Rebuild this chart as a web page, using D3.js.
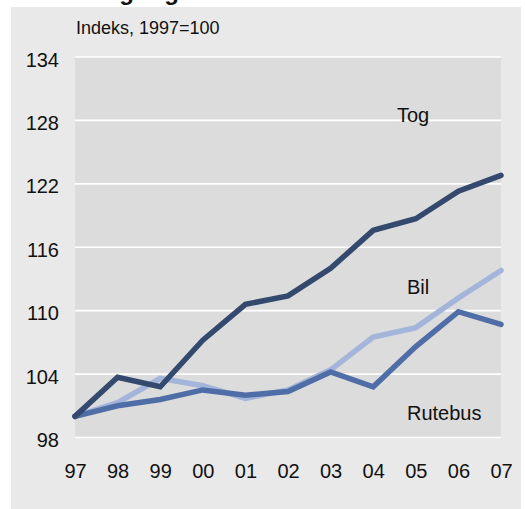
<!DOCTYPE html>
<html>
<head>
<meta charset="utf-8">
<script src="https://cdn.jsdelivr.net/npm/d3@7"></script>
<style>
  body { margin: 0; background: #fff; }
  text { font-family: "Liberation Sans Narrow", "Liberation Sans", sans-serif; fill: #111; }
</style>
</head>
<body>
<div id="chart"></div>
<script>
const w = 525;
const h = 509;

// data
const years = ["97", "98", "99", "00", "01", "02", "03", "04", "05", "06", "07"];
const tog = [100, 103.7, 102.8, 107.2, 110.6, 111.4, 114.0, 117.6, 118.7, 121.3, 122.8];
const bil = [100, 101.3, 103.6, 102.9, 101.7, 102.5, 104.4, 107.5, 108.4, 111.2, 113.8];
const rutebus = [100, 101.0, 101.6, 102.5, 102.0, 102.35, 104.2, 102.8, 106.6, 109.9, 108.7];
const yTicks = [98, 104, 110, 116, 122, 128, 134];

const series = [
  {name: "Bil", values: bil, color: "#a3b5da", lx: 407, ly: 294},
  {name: "Rutebus", values: rutebus, color: "#4f6ea7", lx: 407, ly: 420},
  {name: "Tog", values: tog, color: "#33496e", lx: 397, ly: 122}
];

const padL = 75, padR = 501, padT = 57, padB = 437.5;

let svg = d3.select("#chart").append("svg").attr("width", w).attr("height", h);

// panel backgrounds
svg.append("rect").attr("x", 11).attr("y", 7).attr("width", 510).attr("height", h - 7).attr("fill", "#e9e9e9");
svg.append("rect").attr("x", padL).attr("y", padT).attr("width", padR - padL).attr("height", padB - padT).attr("fill", "#dcdcdc");

// title, cut off by the top edge like in the source
svg.append("text").attr("x", 179).attr("y", -0.5).attr("text-anchor", "end")
  .attr("font-size", 24).attr("font-weight", "bold").attr("word-spacing", 9)
  .text("Trafikudvikling og");

let x = d3.scalePoint().domain(years).range([padL, padR]);
let y = d3.scaleLinear().domain([98, 134]).range([padB, padT]);

// gridlines
svg.append("g").selectAll("line").data(yTicks)
  .enter().append("line")
  .attr("x1", padL).attr("x2", padR)
  .attr("y1", (d) => y(d)).attr("y2", (d) => y(d))
  .attr("stroke", "#fff").attr("stroke-width", 1.6);

// y axis
let yAxis = svg.append("g").attr("transform", "translate(59,0)")
  .call(d3.axisLeft(y).tickValues(yTicks).tickSize(0).tickPadding(0));
yAxis.select(".domain").remove();
yAxis.selectAll("text").attr("font-size", 20).attr("dy", "0.45em").attr("fill", "#111");

// x axis
let xAxis = svg.append("g").attr("transform", "translate(0," + padB + ")")
  .call(d3.axisBottom(x).tickSize(0).tickPadding(26));
xAxis.select(".domain").remove();
xAxis.selectAll("text").attr("font-size", 20).attr("fill", "#111");
svg.selectAll("g[font-family]").attr("font-family", null);

// unit label
svg.append("text").attr("x", 76).attr("y", 33.5).attr("font-size", 18).text("Indeks, 1997=100");

// lines
let line = d3.line().x((d, i) => x(years[i])).y((d) => y(d));

svg.append("g").selectAll("path").data(series)
  .enter().append("path")
  .attr("d", (d) => line(d.values))
  .attr("fill", "none")
  .attr("stroke", (d) => d.color)
  .attr("stroke-width", 5.5)
  .attr("stroke-linecap", "round")
  .attr("stroke-linejoin", "miter");

// series labels
svg.append("g").selectAll("text").data(series)
  .enter().append("text")
  .attr("x", (d) => d.lx).attr("y", (d) => d.ly)
  .attr("font-size", 20)
  .text((d) => d.name);
</script>
</body>
</html>
